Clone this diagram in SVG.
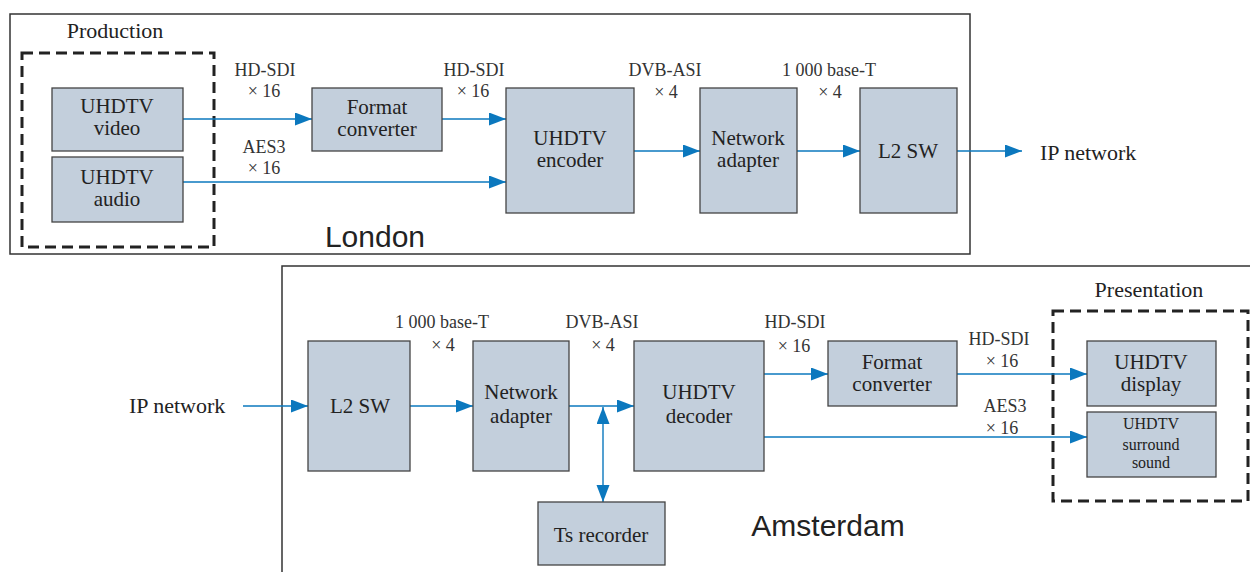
<svg xmlns="http://www.w3.org/2000/svg" width="1250" height="572" viewBox="0 0 1250 572">
<style>
.frame{fill:none;stroke:#333;stroke-width:1.5}
.dash{fill:none;stroke:#222;stroke-width:3;stroke-dasharray:11 6}
.box{fill:#c3cfdc;stroke:#444;stroke-width:1.3}
.t{font-family:"Liberation Serif","Times New Roman",serif;font-size:21px;fill:#222;text-anchor:middle}
.s{font-family:"Liberation Serif","Times New Roman",serif;font-size:16px;fill:#222;text-anchor:middle}
.l{font-family:"Liberation Serif","Times New Roman",serif;font-size:18px;fill:#333;text-anchor:middle}
.big{font-family:"Liberation Sans",Arial,sans-serif;font-size:30px;fill:#222;text-anchor:middle}
.lab{font-family:"Liberation Serif","Times New Roman",serif;font-size:22px;fill:#222}
.c{fill:none;stroke:#0b78be;stroke-width:1.4}
</style>
<defs>
<marker id="ah" markerUnits="userSpaceOnUse" markerWidth="18" markerHeight="14" refX="17" refY="6.5" orient="auto-start-reverse" viewBox="0 0 18 14">
<path d="M0,0 L17,6.5 L0,13 z" fill="#0b78be"/>
</marker>
</defs>

<!-- frames -->
<g id="london-frame">
<rect class="frame" x="10" y="14" width="960" height="240"/>
<text class="big" x="375" y="247">London</text>
</g>
<g id="amsterdam-frame">
<rect class="frame" x="282" y="266" width="990" height="320"/>
<text class="big" x="828" y="536">Amsterdam</text>
</g>
<g id="production">
<rect class="dash" x="22" y="53" width="192" height="194"/>
<text class="lab" x="115" y="38" text-anchor="middle">Production</text>
</g>
<g id="presentation">
<rect class="dash" x="1053" y="311" width="195" height="190"/>
<text class="lab" x="1149" y="297" text-anchor="middle">Presentation</text>
</g>

<!-- connectors -->
<g id="connectors">
<line class="c" x1="183" y1="119" x2="312" y2="119" marker-end="url(#ah)"/>
<line class="c" x1="442" y1="119" x2="506" y2="119" marker-end="url(#ah)"/>
<line class="c" x1="183" y1="182" x2="506" y2="182" marker-end="url(#ah)"/>
<line class="c" x1="634" y1="151" x2="700" y2="151" marker-end="url(#ah)"/>
<line class="c" x1="797" y1="151" x2="860" y2="151" marker-end="url(#ah)"/>
<line class="c" x1="957" y1="151" x2="1022" y2="151" marker-end="url(#ah)"/>

<line class="c" x1="243" y1="406" x2="308" y2="406" marker-end="url(#ah)"/>
<line class="c" x1="410" y1="406" x2="473" y2="406" marker-end="url(#ah)"/>
<line class="c" x1="569" y1="406" x2="634" y2="406" marker-end="url(#ah)"/>
<line class="c" x1="603" y1="407" x2="603" y2="502" marker-start="url(#ah)" marker-end="url(#ah)"/>
<line class="c" x1="764" y1="374" x2="828" y2="374" marker-end="url(#ah)"/>
<line class="c" x1="957" y1="374" x2="1087" y2="374" marker-end="url(#ah)"/>
<line class="c" x1="764" y1="437" x2="1087" y2="437" marker-end="url(#ah)"/>

<text class="l" x="265" y="76">HD-SDI</text>
<text class="l" x="264" y="97">× 16</text>
<text class="l" x="474" y="76">HD-SDI</text>
<text class="l" x="473" y="97">× 16</text>
<text class="l" x="264" y="153">AES3</text>
<text class="l" x="264" y="174">× 16</text>
<text class="l" x="665" y="76">DVB-ASI</text>
<text class="l" x="666" y="98">× 4</text>
<text class="l" x="829" y="76">1 000 base-T</text>
<text class="l" x="830" y="98">× 4</text>
<text class="lab" x="1040" y="160">IP network</text>

<text class="lab" x="129" y="413">IP network</text>
<text class="l" x="442" y="328">1 000 base-T</text>
<text class="l" x="443" y="351">× 4</text>
<text class="l" x="602" y="328">DVB-ASI</text>
<text class="l" x="603" y="351">× 4</text>
<text class="l" x="795" y="328">HD-SDI</text>
<text class="l" x="794" y="352">× 16</text>
<text class="l" x="999" y="345">HD-SDI</text>
<text class="l" x="1002" y="367">× 16</text>
<text class="l" x="1005" y="412">AES3</text>
<text class="l" x="1002" y="434">× 16</text>
</g>

<!-- London nodes -->
<g id="uhdtv-video">
<rect class="box" x="52" y="88" width="131" height="63"/>
<text class="t" x="117" y="113">UHDTV</text>
<text class="t" x="117" y="135">video</text>
</g>
<g id="uhdtv-audio">
<rect class="box" x="52" y="157" width="131" height="65"/>
<text class="t" x="117" y="184">UHDTV</text>
<text class="t" x="117" y="206">audio</text>
</g>
<g id="format-converter-1">
<rect class="box" x="312" y="88" width="130" height="63"/>
<text class="t" x="377" y="114">Format</text>
<text class="t" x="377" y="136">converter</text>
</g>
<g id="uhdtv-encoder">
<rect class="box" x="506" y="88" width="128" height="125"/>
<text class="t" x="570" y="145">UHDTV</text>
<text class="t" x="570" y="167">encoder</text>
</g>
<g id="network-adapter-1">
<rect class="box" x="700" y="88" width="97" height="125"/>
<text class="t" x="748" y="145">Network</text>
<text class="t" x="748" y="167">adapter</text>
</g>
<g id="l2sw-1">
<rect class="box" x="860" y="88" width="97" height="125"/>
<text class="t" x="908" y="158">L2 SW</text>
</g>

<!-- Amsterdam nodes -->
<g id="l2sw-2">
<rect class="box" x="308" y="341" width="102" height="130"/>
<text class="t" x="360" y="413">L2 SW</text>
</g>
<g id="network-adapter-2">
<rect class="box" x="473" y="341" width="96" height="130"/>
<text class="t" x="521" y="399">Network</text>
<text class="t" x="521" y="423">adapter</text>
</g>
<g id="ts-recorder">
<rect class="box" x="538" y="502" width="127" height="63"/>
<text class="t" x="601" y="542">Ts recorder</text>
</g>
<g id="uhdtv-decoder">
<rect class="box" x="634" y="341" width="130" height="130"/>
<text class="t" x="699" y="399">UHDTV</text>
<text class="t" x="699" y="423">decoder</text>
</g>
<g id="format-converter-2">
<rect class="box" x="828" y="341" width="129" height="65"/>
<text class="t" x="892" y="369">Format</text>
<text class="t" x="892" y="391">converter</text>
</g>
<g id="uhdtv-display">
<rect class="box" x="1087" y="341" width="129" height="65"/>
<text class="t" x="1151" y="369">UHDTV</text>
<text class="t" x="1151" y="391">display</text>
</g>
<g id="uhdtv-surround">
<rect class="box" x="1087" y="412" width="129" height="65"/>
<text class="s" x="1151" y="429">UHDTV</text>
<text class="s" x="1151" y="450">surround</text>
<text class="s" x="1151" y="468">sound</text>
</g>
</svg>
